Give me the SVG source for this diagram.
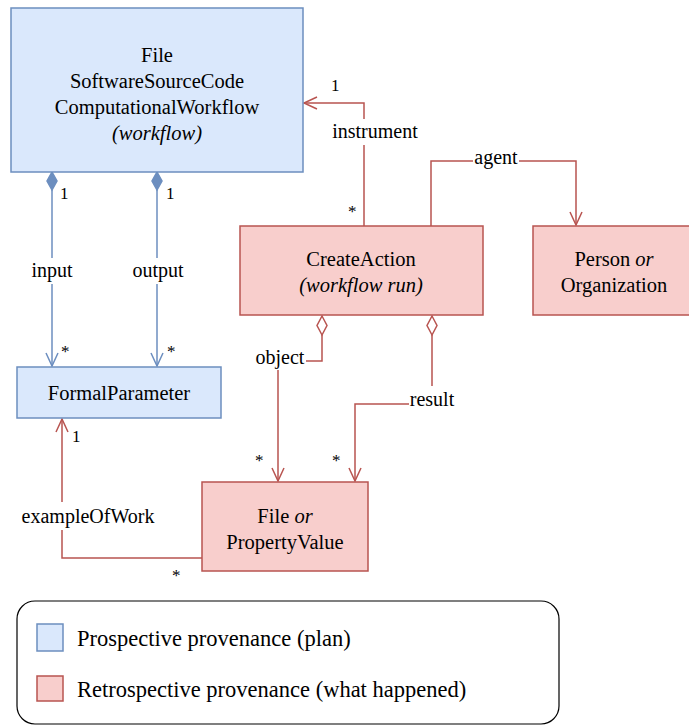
<svg xmlns="http://www.w3.org/2000/svg" width="689" height="726" viewBox="0 0 689 726" font-family="'Liberation Serif', 'Tinos', 'DejaVu Serif', serif">
<defs>
<style>
text{font-family:"Liberation Serif","Tinos","DejaVu Serif",serif;fill:#000;}
.n{font-size:20.5px;text-anchor:middle;}
.l{font-size:20px;text-anchor:middle;}
.m{font-size:17px;}
.blue{fill:#dae8fc;stroke:#6c8ebf;stroke-width:1.5;}
.red{fill:#f8cecc;stroke:#b85450;stroke-width:1.5;}
.cb{fill:none;stroke:#6c8ebf;stroke-width:1.5;}
.cr{fill:none;stroke:#b85450;stroke-width:1.5;}
.bg{fill:#fff;stroke:none;}
</style>
<marker id="ob" markerWidth="20" markerHeight="20" refX="14" refY="7" orient="auto" markerUnits="userSpaceOnUse"><path d="M1,1 L14,7 L1,13" fill="none" stroke="#6c8ebf" stroke-width="1.5"/></marker>
<marker id="or" markerWidth="20" markerHeight="20" refX="14" refY="7" orient="auto" markerUnits="userSpaceOnUse"><path d="M1,1 L14,7 L1,13" fill="none" stroke="#b85450" stroke-width="1.5"/></marker>
</defs>
<g id="connectors">
<!-- input -->
<path class="cb" d="M52,190 V366" marker-end="url(#ob)"/>
<path d="M52,172 L57,181 L52,190 L47,181 Z" fill="#6c8ebf" stroke="#6c8ebf" stroke-width="1.5"/>
<rect class="bg" x="26" y="258" width="52" height="26"/>
<text class="l" x="52" y="277">input</text>
<text class="m" x="60" y="199">1</text>
<text class="m" x="61" y="357">*</text>
<!-- output -->
<path class="cb" d="M157,190 V366" marker-end="url(#ob)"/>
<path d="M157,172 L162,181 L157,190 L152,181 Z" fill="#6c8ebf" stroke="#6c8ebf" stroke-width="1.5"/>
<rect class="bg" x="128" y="258" width="60" height="26"/>
<text class="l" x="158" y="277">output</text>
<text class="m" x="166" y="199">1</text>
<text class="m" x="167" y="357">*</text>
<!-- instrument -->
<path class="cr" d="M364,226 V103 H304" marker-end="url(#or)"/>
<rect class="bg" x="330" y="119" width="90" height="26"/>
<text class="l" x="375" y="138">instrument</text>
<text class="m" x="331" y="91">1</text>
<text class="m" x="348" y="217">*</text>
<!-- agent -->
<path class="cr" d="M431,226 V161 H576 V225" marker-end="url(#or)"/>
<rect class="bg" x="473" y="149" width="46" height="22"/>
<text class="l" x="496" y="164">agent</text>
<!-- object -->
<path class="cr" d="M322,335 V361 H278 V481" marker-end="url(#or)"/>
<path d="M322,316 L327,325.5 L322,335 L317,325.5 Z" fill="#fff" stroke="#b85450" stroke-width="1.5"/>
<rect class="bg" x="254" y="348" width="52" height="22"/>
<text class="l" x="280" y="364">object</text>
<text class="m" x="255" y="466">*</text>
<!-- result -->
<path class="cr" d="M432,335 V404 H355 V481" marker-end="url(#or)"/>
<path d="M432,316 L437,325.5 L432,335 L427,325.5 Z" fill="#fff" stroke="#b85450" stroke-width="1.5"/>
<rect class="bg" x="409" y="386" width="46" height="24"/>
<text class="l" x="432" y="406">result</text>
<text class="m" x="332" y="466">*</text>
<!-- exampleOfWork -->
<path class="cr" d="M202,558 H62 V419" marker-end="url(#or)"/>
<rect class="bg" x="18" y="502" width="140" height="28"/>
<text class="l" x="88" y="523">exampleOfWork</text>
<text class="m" x="72" y="442">1</text>
<text class="m" x="172" y="581">*</text>
</g>
<g id="workflow">
<rect class="blue" x="11" y="8" width="292" height="164"/>
<text class="n" x="157" y="62">File</text>
<text class="n" x="157" y="88">SoftwareSourceCode</text>
<text class="n" x="157" y="114">ComputationalWorkflow</text>
<text class="n" x="157" y="140" font-style="italic">(workflow)</text>
</g>
<g id="formalparameter">
<rect class="blue" x="17" y="367" width="204" height="51"/>
<text class="n" x="119" y="400">FormalParameter</text>
</g>
<g id="createaction">
<rect class="red" x="240" y="226" width="243" height="89"/>
<text class="n" x="361" y="266">CreateAction</text>
<text class="n" x="361" y="292" font-style="italic">(workflow run)</text>
</g>
<g id="person">
<rect class="red" x="533" y="226" width="162" height="89"/>
<text class="n" x="614" y="266">Person <tspan font-style="italic">or</tspan></text>
<text class="n" x="614" y="292">Organization</text>
</g>
<g id="filepv">
<rect class="red" x="202" y="482" width="166" height="89"/>
<text class="n" x="285" y="523">File <tspan font-style="italic">or</tspan></text>
<text class="n" x="285" y="549">PropertyValue</text>
</g>
<g id="legend">
<rect x="17" y="601" width="542" height="123" rx="18" fill="#fff" stroke="#000" stroke-width="1.2"/>
<rect class="blue" x="37" y="624" width="26" height="27"/>
<text x="77" y="646" font-size="22.5">Prospective provenance (plan)</text>
<rect class="red" x="37" y="676" width="26" height="25"/>
<text x="77" y="697" font-size="22.5">Retrospective provenance (what happened)</text>
</g>
</svg>
